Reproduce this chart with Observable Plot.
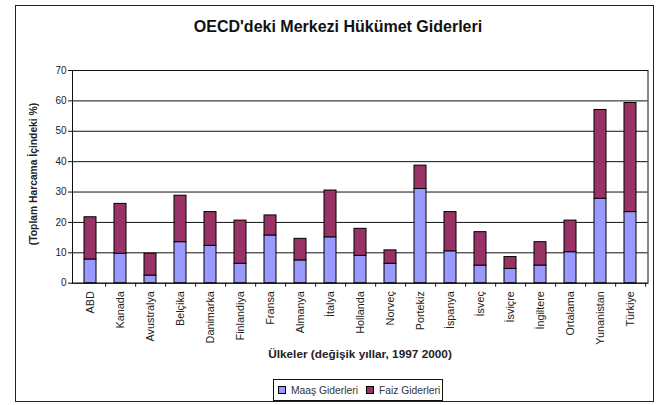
<!DOCTYPE html>
<html>
<head>
<meta charset="utf-8">
<script src="https://cdn.jsdelivr.net/npm/d3@7"></script>
<script src="https://cdn.jsdelivr.net/npm/@observablehq/plot@0.6"></script>
<style>
  html, body { margin: 0; padding: 0; background: #fff; }
  #wrap { position: relative; width: 661px; height: 405px; font-family: "Liberation Sans", Arial, sans-serif; }
  #border { position: absolute; left: 15px; top: 5px; width: 639px; height: 397px; border: 1.5px solid #222; box-sizing: border-box; }
  #title { position: absolute; left: 0; width: 676px; top: 18px; text-align: center; font-weight: bold; font-size: 16px; color: #111; }
  #ylab { position: absolute; left: 33px; top: 174px; transform: translate(-50%, -50%) rotate(-90deg); white-space: nowrap; font-weight: bold; font-size: 10.3px; color: #222; }
  #xlab { position: absolute; left: 0; width: 720px; top: 347px; text-align: center; font-weight: bold; font-size: 11.8px; color: #222; }
  #legend { position: absolute; left: 273px; top: 379px; width: 170px; height: 22px; border: 1.5px solid #111; box-sizing: border-box; font-size: 10.3px; color: #333; display: flex; align-items: center; padding-left: 4px; white-space: nowrap; }
  .sw { display: inline-block; width: 6px; height: 6px; border: 1px solid #000; margin-right: 5px; flex: none; }
  .lt { flex: none; }
  svg { position: absolute; left: 0; top: 0; }
</style>
</head>
<body>
<div id="wrap"></div>
<script>
const categories = ["ABD","Kanada","Avustralya","Belçika","Danimarka","Finlandiya","Fransa","Almanya","İtalya","Hollanda","Norveç","Portekiz","İspanya","İsveç","İsviçre","İngiltere","Ortalama","Yunanistan","Türkiye"];
const maas = [7.8, 9.7, 2.5, 13.5, 12.3, 6.4, 15.7, 7.5, 15.1, 9.0, 6.4, 31.0, 10.5, 5.8, 4.7, 5.8, 10.2, 27.8, 23.4];
const faiz = [13.9, 16.4, 7.2, 15.3, 11.1, 14.2, 6.6, 7.1, 15.4, 8.9, 4.4, 7.7, 12.9, 11.0, 3.9, 7.7, 10.4, 29.2, 35.9];
const seriesNames = ["Maaş Giderleri", "Faiz Giderleri"];
const seriesColors = ["#9999ff", "#993366"];
const yTicks = [0, 10, 20, 30, 40, 50, 60, 70];
const titleText = "OECD'deki Merkezi Hükümet Giderleri";
const yLabel = "(Toplam Harcama İçindeki %)";
const xLabel = "Ülkeler (değişik yıllar, 1997 2000)";

const data = [];
categories.forEach((c, i) => {
  data.push({cat: c, series: seriesNames[0], value: maas[i]});
  data.push({cat: c, series: seriesNames[1], value: faiz[i]});
});

const W = 661, H = 405, mL = 72, mR = 13.5, mT = 70, mB = 122.3;
const step = (W - mL - mR) / categories.length;

const chart = Plot.plot({
  width: W, height: H,
  marginLeft: mL, marginRight: mR, marginTop: mT, marginBottom: mB,
  style: {fontFamily: "Liberation Sans, Arial, sans-serif", fontSize: "10px", color: "#222", background: "transparent"},
  x: {domain: categories, paddingInner: 0.6, paddingOuter: 0.3, label: null},
  y: {domain: [0, 70], label: null},
  color: {domain: seriesNames, range: seriesColors},
  marks: [
    Plot.ruleY(yTicks, {stroke: "#111", strokeWidth: 1}),
    Plot.barY(data, Plot.stackY({x: "cat", y: "value", fill: "series", order: seriesNames, stroke: "#000", strokeWidth: 1})),
    Plot.frame({stroke: "#111", strokeWidth: 1}),
    Plot.ruleX(categories, {x: d => d, dx: step / 2, y1: 0, y2: 0, insetBottom: -4, stroke: "#111"}),
    Plot.axisY({ticks: yTicks, tickSize: 4, tickPadding: 2, label: null, fontSize: 10, stroke: "#111"}),
    Plot.axisX({tickSize: 0, tickRotate: -90, tickPadding: 8, label: null, fontSize: 10.8})
  ]
});

const wrap = document.getElementById("wrap");
wrap.innerHTML = `<div id="border"></div>
<div id="title">${titleText}</div>
<div id="ylab">${yLabel}</div>
<div id="xlab">${xLabel}</div>
<div id="legend"><span class="sw" style="background:${seriesColors[0]}"></span><span class="lt">${seriesNames[0]}</span><span style="width:8px;flex:none"></span><span class="sw" style="background:${seriesColors[1]}"></span><span class="lt">${seriesNames[1]}</span></div>`;
wrap.appendChild(chart);
</script>
</body>
</html>
